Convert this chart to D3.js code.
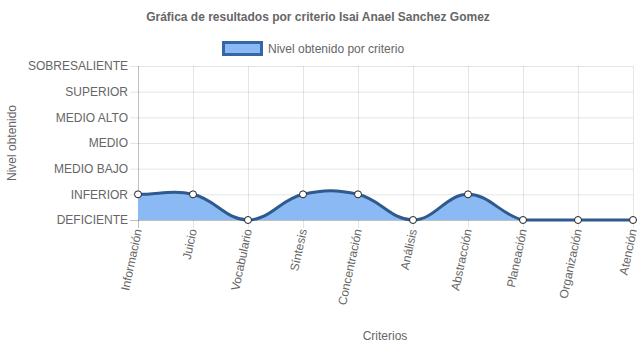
<!DOCTYPE html>
<html><head><meta charset="utf-8">
<script src="https://cdn.jsdelivr.net/npm/d3@7"></script>
<style>body{margin:0;background:#fff}svg{display:block}text{font-family:"Liberation Sans",Arial,sans-serif}</style>
</head><body><svg id="c" width="637" height="348"></svg>
<script>
const categories = ["Información","Juicio","Vocabulario","Síntesis","Concentración","Análisis","Abstracción","Planeación","Organización","Atención"];
const values = [1,1,0,1,1,0,1,0,0,0];
const levelLabels = ["DEFICIENTE","INFERIOR","MEDIO BAJO","MEDIO","MEDIO ALTO","SUPERIOR","SOBRESALIENTE"];
const title = "Gráfica de resultados por criterio Isai Anael Sanchez Gomez";
const seriesName = "Nivel obtenido por criterio";
const yTitle = "Nivel obtenido";
const xTitle = "Criterios";

(function () {
const svg = d3.select("#c");
const pL = 138, pR = 633, pT = 66, pB = 220;
const x = d3.scalePoint().domain(categories).range([pL, pR]);
const y = d3.scaleLinear().domain([0, levelLabels.length - 1]).range([pB, pT]);
const txt = "#666";

// Chart.js-like spline curve (tension 0.4) with control points capped to the plot area
function splineCurve(tension, yMin, yMax) {
  function C(ctx) { this._context = ctx; }
  C.prototype = {
    areaStart() { this._line = 0; },
    areaEnd() { this._line = NaN; },
    lineStart() { this._pts = []; },
    point(px, py) { this._pts.push([+px, +py]); },
    lineEnd() {
      const p = this._pts, c = this._context, n = p.length;
      if (n) {
        if (this._line) c.lineTo(p[0][0], p[0][1]); else c.moveTo(p[0][0], p[0][1]);
        const cps = p.map((cur, i) => {
          const prev = p[i - 1] || cur, next = p[i + 1] || cur;
          const d01 = Math.hypot(cur[0] - prev[0], cur[1] - prev[1]);
          const d12 = Math.hypot(next[0] - cur[0], next[1] - cur[1]);
          let s01 = d01 / (d01 + d12), s12 = d12 / (d01 + d12);
          if (!isFinite(s01)) s01 = 0; if (!isFinite(s12)) s12 = 0;
          const fa = tension * s01, fb = tension * s12;
          const cl = v => Math.max(yMin, Math.min(yMax, v));
          return {
            px: cur[0] - fa * (next[0] - prev[0]), py: cl(cur[1] - fa * (next[1] - prev[1])),
            nx: cur[0] + fb * (next[0] - prev[0]), ny: cl(cur[1] + fb * (next[1] - prev[1]))
          };
        });
        for (let i = 1; i < n; i++) {
          c.bezierCurveTo(cps[i - 1].nx, cps[i - 1].ny, cps[i].px, cps[i].py, p[i][0], p[i][1]);
        }
      }
      if (this._line || (this._line !== 0 && n === 1)) c.closePath();
      this._line = 1 - this._line;
    }
  };
  return ctx => new C(ctx);
}

const g = svg.append("g");
g.selectAll(".hg").data(d3.range(levelLabels.length)).join("line")
  .attr("x1", pL - 8).attr("x2", pR).attr("y1", d => y(d) + 0.5).attr("y2", d => y(d) + 0.5)
  .attr("stroke", d => d === 0 ? "rgba(0,0,0,0.25)" : "rgba(0,0,0,0.1)").attr("stroke-width", 1);
g.selectAll(".vg").data(categories).join("line")
  .attr("x1", d => x(d) + 0.5).attr("x2", d => x(d) + 0.5).attr("y1", pT).attr("y2", pB + 8)
  .attr("stroke", (d, i) => i === 0 ? "rgba(0,0,0,0.25)" : "rgba(0,0,0,0.1)").attr("stroke-width", 1);

g.selectAll(".yl").data(levelLabels).join("text")
  .attr("x", pL - 10).attr("y", (d, i) => y(i)).attr("dy", "0.35em")
  .attr("text-anchor", "end").attr("fill", txt).attr("font-size", 12).text(d => d);

g.selectAll(".xl").data(categories).join("text")
  .attr("transform", d => `translate(${x(d) + 4},${pB + 10}) rotate(-78)`)
  .attr("text-anchor", "end").attr("fill", txt).attr("font-size", 12).text(d => d);

const curve = splineCurve(0.4, pT, pB);
const area = d3.area().x((d, i) => x(categories[i])).y0(y(0)).y1(d => y(d)).curve(curve);
const line = d3.line().x((d, i) => x(categories[i])).y(d => y(d)).curve(curve);
svg.append("path").datum(values).attr("d", area).attr("fill", "#8ab9f3");
svg.append("path").datum(values).attr("d", line).attr("fill", "none")
  .attr("stroke", "#2e5a8e").attr("stroke-width", 3);
svg.selectAll(".pt").data(values).join("circle")
  .attr("cx", (d, i) => x(categories[i])).attr("cy", d => y(d)).attr("r", 3.5)
  .attr("fill", "#fff").attr("stroke", "#222").attr("stroke-width", 1);

svg.append("text").attr("x", 318).attr("y", 21).attr("text-anchor", "middle")
  .attr("font-weight", "bold").attr("font-size", 12).attr("fill", txt).text(title);
svg.append("rect").attr("x", 223.5).attr("y", 42.5).attr("width", 38).attr("height", 12)
  .attr("fill", "#8ab9f3").attr("stroke", "#3566a6").attr("stroke-width", 3);
svg.append("text").attr("x", 268).attr("y", 53).attr("font-size", 12).attr("fill", txt).text(seriesName);
svg.append("text").attr("transform", "translate(16,143) rotate(-90)").attr("text-anchor", "middle")
  .attr("font-size", 12).attr("fill", txt).text(yTitle);
svg.append("text").attr("x", 385).attr("y", 340).attr("text-anchor", "middle")
  .attr("font-size", 12).attr("fill", txt).text(xTitle);
})();
</script></body></html>
